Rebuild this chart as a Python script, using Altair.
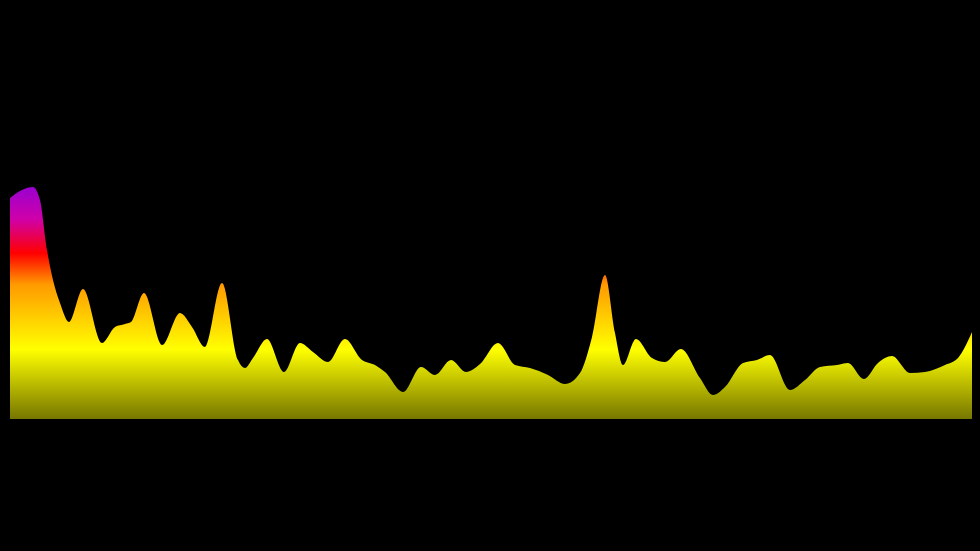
import altair as alt
import pandas as pd

# Position along the signal (arbitrary units) and amplitude
t_values = [0, 12, 23, 30, 37, 43, 50, 59, 73, 92, 105, 115, 121, 134, 152, 170, 182, 195,
            212, 228, 235, 243, 257, 274, 290, 303, 318, 335, 352, 365, 375, 393, 411, 425,
            441, 456, 470, 488, 505, 520, 538, 555, 570, 582, 595, 605, 613, 626, 642, 655,
            671, 690, 703, 715, 733, 747, 760, 780, 795, 810, 827, 838, 854, 868, 882, 900,
            915, 935, 948, 962]
amplitude = [221, 229, 232, 219, 169, 139, 116, 97, 130, 76, 92, 95, 97, 126, 74, 106, 92, 72,
             136, 59, 51, 61, 80, 47, 76, 67, 57, 80, 59, 54, 47, 27, 52, 44,
             59, 47, 55, 76, 54, 51, 44, 35, 46, 82, 144, 86, 54, 80, 61, 57,
             70, 41, 24, 32, 56, 59, 64, 29, 39, 52, 54, 56, 40, 56, 63, 46,
             47, 54, 61, 87]

# Gradient colour stops (offset, colour)
stop_offsets = [0.0, 0.14, 0.285, 0.42, 0.7, 1.0]
stop_colors = ["#9a00d0", "#d000a8", "#ff0000", "#ff9a00", "#ffff00", "#767600"]

df = pd.DataFrame({"t": t_values, "amp": amplitude})

# black page background (keeps the default template otherwise)
try:
    import jinja2
    from altair.utils import html as _alt_html
    _src = """<!DOCTYPE html>
<html>
<head>
  <style>
    html, body { background: #000000; }
    #{{ output_div }}.vega-embed { width: 100%; display: flex; }
  </style>
  <script type="text/javascript" src="{{ base_url }}/vega@{{ vega_version }}"></script>
  <script type="text/javascript" src="{{ base_url }}/vega-lite@{{ vegalite_version }}"></script>
  <script type="text/javascript" src="{{ base_url }}/vega-embed@{{ vegaembed_version }}"></script>
</head>
<body>
  <div id="{{ output_div }}"></div>
  <script>
    (function(vegaEmbed) {
      var spec = {{ spec }};
      var embedOpt = {{ embed_options }};
      function showError(el, error){
        el.innerHTML = ('<div style="color:red;"><p>JavaScript Error: ' + error.message + '</p></div>');
        throw error;
      }
      const el = document.getElementById('{{ output_div }}');
      vegaEmbed("#{{ output_div }}", spec, embedOpt).catch(error => showError(el, error));
    })(vegaEmbed);
  </script>
</body>
</html>"""
    _alt_html.TEMPLATES["standard"] = jinja2.Template(_src)
except Exception:
    pass

gradient = alt.Gradient(
    gradient="linear",
    x1=0, y1=0, x2=0, y2=1,
    stops=[alt.GradientStop(offset=o, color=c) for o, c in zip(stop_offsets, stop_colors)],
)

chart = (
    alt.Chart(df)
    .mark_area(interpolate="monotone", color=gradient, line=False)
    .encode(
        x=alt.X("t:Q", scale=alt.Scale(domain=[-2, 962], nice=False, zero=False), axis=None),
        y=alt.Y("amp:Q", scale=alt.Scale(domain=[-124, 411], nice=False, zero=False), axis=None),
        y2=alt.datum(0),
    )
    .properties(
        width=964,
        height=535,
        background="#000000",
        padding=0,
        autosize=alt.AutoSizeParams(type="fit", contains="padding"),
    )
    .configure_view(stroke=None, fill="#000000")
)

chart.save("out.html", embed_options={"renderer": "svg", "actions": False})
